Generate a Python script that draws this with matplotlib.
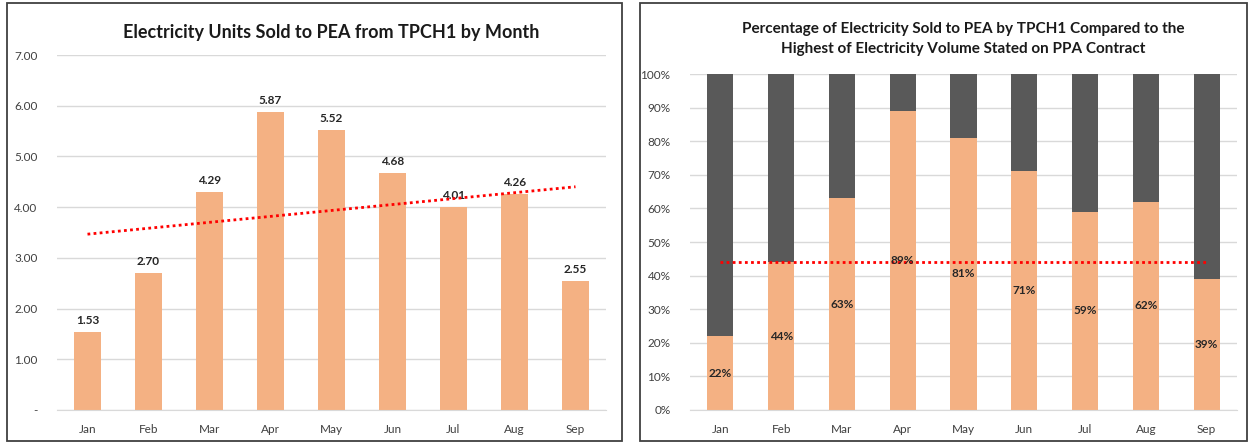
import numpy as np
import matplotlib.pyplot as plt
from matplotlib.patches import Rectangle

months = ["Jan", "Feb", "Mar", "Apr", "May", "Jun", "Jul", "Aug", "Sep"]
units_sold = [1.53, 2.70, 4.29, 5.87, 5.52, 4.68, 4.01, 4.26, 2.55]
pct_sold = [22, 44, 63, 89, 81, 71, 59, 62, 39]
pct_ref = 44

plt.rcParams["font.family"] = ["Lato", "DejaVu Sans"]

ORANGE = "#F4B183"
DARK = "#595959"
GRID = "#D9D9D9"

W, H = 1251, 442
fig = plt.figure(figsize=(W / 100, H / 100), dpi=100)


def fx(px):
    return px / W


def fy(py):
    return 1 - py / H


# panel borders
for x0, x1 in [(7, 622), (640, 1247)]:
    fig.add_artist(Rectangle((fx(x0), fy(441)), fx(x1 - x0), (441 - 3) / H,
                             transform=fig.transFigure, fill=False,
                             edgecolor="#404040", linewidth=1.3))

x = np.arange(len(months))

# left chart
ax1 = fig.add_axes([fx(57), fy(410), fx(606 - 57), (410 - 55) / H])
ax1.bar(x, units_sold, width=0.43, color=ORANGE, zorder=2)
for xi, v in zip(x, units_sold):
    ax1.text(xi, v + 0.12, f"{v:.2f}", ha="center", va="bottom",
             fontsize=8.5, fontweight="bold", color="#262626")
slope, icpt = np.polyfit(x, units_sold, 1)
ax1.plot(x, slope * x + icpt, color="#FF0000", linestyle=(0, (1, 1.2)),
         linewidth=2, zorder=3)
ax1.set_ylim(0, 7)
ax1.set_xlim(-0.5, len(months) - 0.5)
ax1.set_yticks(np.arange(0, 8))
ax1.set_yticklabels(["-"] + [f"{v:.2f}" for v in range(1, 8)])
ax1.set_title("Electricity Units Sold to PEA from TPCH1 by Month",
              fontsize=13, fontweight="bold", pad=12, color="#1a1a1a")

# right chart
ax2 = fig.add_axes([fx(690), fy(410), fx(1237 - 690), (410 - 74) / H])
rest = [100 - p for p in pct_sold]
ax2.bar(x, pct_sold, width=0.43, color=ORANGE, zorder=2)
ax2.bar(x, rest, width=0.43, bottom=pct_sold, color=DARK, zorder=2)
for xi, p in zip(x, pct_sold):
    ax2.text(xi, p / 2, f"{p}%", ha="center", va="center",
             fontsize=8.5, fontweight="bold", color="#262626", zorder=4)
ax2.plot(x, [pct_ref] * len(x), color="#FF0000", linestyle=(0, (1, 1.2)),
         linewidth=2, zorder=3)
ax2.set_ylim(0, 100)
ax2.set_xlim(-0.5, len(months) - 0.5)
ax2.set_yticks(np.arange(0, 101, 10))
ax2.set_yticklabels([f"{v}%" for v in range(0, 101, 10)])
ax2.set_title("Percentage of Electricity Sold to PEA by TPCH1 Compared to the\n"
              "Highest of Electricity Volume Stated on PPA Contract",
              fontsize=11, fontweight="bold", pad=15, color="#1a1a1a",
              linespacing=1.6)

for ax in (ax1, ax2):
    ax.set_xticks(x)
    ax.set_xticklabels(months)
    ax.grid(axis="y", color=GRID, linewidth=1, zorder=0)
    ax.set_axisbelow(True)
    for s in ["top", "right", "left"]:
        ax.spines[s].set_visible(False)
    ax.spines["bottom"].set_color(GRID)
    ax.tick_params(length=0, labelsize=8.5, colors="#404040", pad=10)
    ax.tick_params(axis="y", pad=14)

fig.savefig("out.png", dpi=100)
